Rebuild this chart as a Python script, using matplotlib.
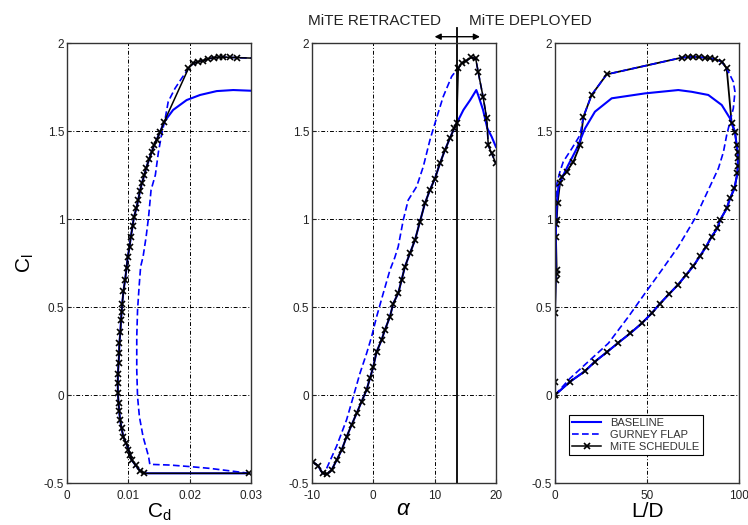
import matplotlib.pyplot as plt

plt.rcParams['font.family'] = ['Liberation Sans', 'DejaVu Sans']
plt.rcParams['mathtext.fontset'] = 'custom'
plt.rcParams['mathtext.rm'] = 'Liberation Sans'
plt.rcParams['mathtext.it'] = 'Liberation Sans:italic'

# ---- drag polar (Cd, Cl) ----
# part shared by the baseline and the MiTE schedule (tab retracted)
polar_low_cd = [0.0297, 0.0126, 0.0119, 0.0112, 0.01055, 0.0103, 0.0100, 0.0096, 0.0092,
                0.0089, 0.00865, 0.0085, 0.0084, 0.0083, 0.00826, 0.0083, 0.0084, 0.0085,
                0.00853, 0.0087, 0.0088, 0.0089, 0.0090, 0.0092, 0.00946, 0.0097, 0.0099,
                0.0102, 0.0104, 0.0107, 0.0109, 0.0113, 0.0116, 0.0119, 0.0122, 0.0126,
                0.0129, 0.0134, 0.0138, 0.0142, 0.0146, 0.0152, 0.0158]
polar_low_cl = [-0.445, -0.445, -0.43, -0.40, -0.37, -0.34, -0.31, -0.27, -0.24,
                -0.19, -0.14, -0.09, -0.047, 0.01, 0.066, 0.12, 0.18, 0.24,
                0.294, 0.36, 0.426, 0.47, 0.52, 0.59, 0.653, 0.72, 0.786,
                0.84, 0.90, 0.96, 1.01, 1.06, 1.108, 1.16, 1.203, 1.25,
                1.29, 1.34, 1.38, 1.42, 1.45, 1.496, 1.55]
base_high_cd = [0.0173, 0.0195, 0.0217, 0.0244, 0.0271, 0.0315]
base_high_cl = [1.62, 1.676, 1.705, 1.727, 1.733, 1.727]
mite_high_cd = [0.0198, 0.0206, 0.0214, 0.0222, 0.0230, 0.0239, 0.0247, 0.0255, 0.0266, 0.0277, 0.0315]
mite_high_cl = [1.856, 1.885, 1.895, 1.90, 1.91, 1.917, 1.919, 1.92, 1.919, 1.917, 1.913]
gurney_cd = [0.0297, 0.0277, 0.0233, 0.0201, 0.0168, 0.0135, 0.0133, 0.0124, 0.0118, 0.0115,
             0.01137, 0.01137, 0.0115, 0.01175, 0.0120, 0.0124, 0.0129, 0.0133, 0.0137,
             0.0144, 0.0149, 0.0154, 0.0160, 0.0165, 0.0176, 0.0187, 0.0198, 0.0206,
             0.0222, 0.0239, 0.0255, 0.0277, 0.0315]
gurney_cl = [-0.445, -0.436, -0.417, -0.407, -0.398, -0.394, -0.35, -0.237, -0.123, -0.01,
             0.142, 0.331, 0.483, 0.615, 0.729, 0.786, 0.90, 1.013, 1.165,
             1.25, 1.38, 1.477, 1.57, 1.667, 1.742, 1.80, 1.856, 1.885,
             1.90, 1.917, 1.92, 1.917, 1.913]

# ---- lift curve (alpha, Cl) ----
lift_low_alpha = [-9.9, -8.97, -8.26, -7.5, -6.79, -5.97, -5.16, -4.34, -3.53, -2.71, -1.9,
                  -1.08, -0.54, 0.0, 0.55, 1.36, 1.9, 2.72, 3.26, 4.07, 4.62, 5.16, 5.98,
                  6.8, 7.61, 8.43, 9.24, 10.06, 10.87, 11.69, 12.5, 13.2, 13.6]
lift_low_cl = [-0.379, -0.403, -0.445, -0.449, -0.426, -0.37, -0.313, -0.237, -0.17, -0.104, -0.037,
               0.03, 0.095, 0.16, 0.246, 0.313, 0.37, 0.445, 0.52, 0.578, 0.653, 0.729, 0.805,
               0.88, 0.985, 1.09, 1.165, 1.23, 1.316, 1.392, 1.46, 1.515, 1.544]
base_high_alpha = [14.7, 15.8, 16.8, 17.1, 17.9, 18.6, 19.3, 20.0]
base_high_lift = [1.62, 1.676, 1.733, 1.705, 1.62, 1.515, 1.468, 1.41]
gurney_alpha = [-7.6, -5.97, -4.34, -3.26, -2.17, -1.08, -0.27, 0.55, 1.63, 2.72, 3.5, 4.07,
                4.89, 5.7, 7.07, 8.15, 9.24, 10.06, 11.4, 12.78, 13.6, 13.86, 14.4, 15.2,
                16.0, 16.7, 17.1, 17.9, 18.5, 18.75, 19.3, 20.0]
gurney_lift = [-0.417, -0.29, -0.14, -0.01, 0.123, 0.237, 0.331, 0.445, 0.578, 0.71, 0.78, 0.843,
               0.994, 1.108, 1.184, 1.297, 1.449, 1.544, 1.695, 1.81, 1.847, 1.856, 1.885, 1.90,
               1.918, 1.913, 1.837, 1.695, 1.572, 1.42, 1.373, 1.316]
mite_high_alpha = [13.86, 14.4, 15.2, 16.0, 16.7, 17.1, 17.9, 18.5, 18.75, 19.3, 20.0]
mite_high_lift = [1.856, 1.885, 1.90, 1.918, 1.913, 1.837, 1.695, 1.572, 1.42, 1.373, 1.316]
alpha_switch = 13.7

# ---- lift-to-drag (L/D, Cl) ----
ld_low = [0, 8.2, 16.3, 21.7, 28.1, 34.4, 40.8, 47.1, 52.5, 57.1, 62, 66.7, 71.2, 75.2,
          78.8, 81.9, 85.1, 88.2, 89.7, 93.3, 95.1, 97.5, 99.1, 99.3, 99.4, 99.3, 98.7,
          97.8, 96]
ld_low_cl = [0, 0.076, 0.136, 0.19, 0.243, 0.297, 0.35, 0.407, 0.464, 0.52, 0.574, 0.625, 0.682, 0.733,
             0.79, 0.839, 0.90, 0.947, 0.994, 1.06, 1.117, 1.174, 1.26, 1.30, 1.345, 1.38, 1.42,
             1.496, 1.544]
ld_base_high = [95.1, 90.6, 83.3, 74.3, 67, 48.9, 30.8, 21.7, 16.3, 11.8, 7.2, 3.6, 1.8, 0.9,
                0.4, 0, 0, 0]
ld_base_high_cl = [1.572, 1.648, 1.705, 1.723, 1.733, 1.714, 1.686, 1.61, 1.515, 1.40, 1.307, 1.23, 1.18, 1.09,
                   0.9, 0.52, 0, -0.5]
ld_mite_high = [93.3, 90.6, 87, 84, 81.5, 78, 75.2, 72, 68.8, 28.1, 19.9, 15.4, 13.6, 10, 6.3,
                3.6, 2.7, 1.4, 0.9, 0.6, 0.5, 0.9, 0.9, 0.5, 0, 0, 0]
ld_mite_high_cl = [1.856, 1.894, 1.909, 1.913, 1.917, 1.92, 1.922, 1.92, 1.917, 1.822, 1.705, 1.58, 1.42, 1.326, 1.27,
                   1.24, 1.203, 1.09, 0.994, 0.97, 0.90, 0.71, 0.69, 0.653, 0.464, 0.076, 0]
ld_gurney = [0, 8.2, 18.1, 29, 39.9, 48.9, 58, 67, 76.1, 83.3, 88.8, 91.5, 93.3, 95.1, 96.9,
             97.8, 96.9, 95.1, 93.3, 90.6, 87, 81.5, 75.2, 68.8, 28.1, 19.9, 15.4, 13.6, 9.1,
             4.5, 2.7, 1.0, 0.5]
ld_gurney_cl = [0, 0.095, 0.19, 0.294, 0.445, 0.578, 0.71, 0.843, 1.004, 1.165, 1.288, 1.38, 1.477, 1.553, 1.629,
                1.723, 1.78, 1.818, 1.856, 1.894, 1.909, 1.917, 1.922, 1.917, 1.822, 1.705, 1.58, 1.477, 1.40,
                1.326, 1.27, 1.2, 1.1]

BLUE = '#0000ff'
base_kw = dict(color=BLUE, linewidth=1.5)
gurney_kw = dict(color=BLUE, linewidth=1.2, linestyle=(0, (4, 2)))
mite_kw = dict(color='black', linewidth=1.1, marker='x', markersize=5, markeredgewidth=1.2)


def style_axes(ax, xlim, xticks, xticklabels):
    ax.set_xlim(*xlim)
    ax.set_ylim(-0.5, 2)
    ax.set_xticks(xticks)
    ax.set_xticklabels(xticklabels)
    ax.set_yticks([-0.5, 0, 0.5, 1, 1.5, 2])
    ax.set_yticklabels(['-0.5', '0', '0.5', '1', '1.5', '2'])
    ax.grid(True, color='black', linewidth=0.7, linestyle=(0, (4, 2, 1, 2)))
    ax.tick_params(direction='in', length=3, labelsize=8.5, colors='#222222')
    ax.tick_params(axis='x', pad=5)
    ax.tick_params(axis='y', pad=2)
    for s in ax.spines.values():
        s.set_color('#333333')
        s.set_linewidth(1.0)


fig = plt.figure(figsize=(7.48, 5.25), dpi=100)
ax1 = fig.add_axes([0.0896, 0.080, 0.246, 0.838])
ax2 = fig.add_axes([0.417, 0.080, 0.246, 0.838])
ax3 = fig.add_axes([0.742, 0.080, 0.246, 0.838])

# drag polar
ax1.plot(polar_low_cd + base_high_cd, polar_low_cl + base_high_cl, **base_kw)
ax1.plot(gurney_cd, gurney_cl, **gurney_kw)
ax1.plot(polar_low_cd + mite_high_cd, polar_low_cl + mite_high_cl, **mite_kw)
style_axes(ax1, (0, 0.03), [0, 0.01, 0.02, 0.03], ['0', '0.01', '0.02', '0.03'])
ax1.set_xlabel(r'$\mathregular{C_d}$', fontsize=15, labelpad=0)
ax1.set_ylabel(r'$\mathregular{C_l}$', fontsize=15, labelpad=6)

# lift curve
ax2.plot(lift_low_alpha + base_high_alpha, lift_low_cl + base_high_lift, **base_kw)
ax2.plot(gurney_alpha, gurney_lift, **gurney_kw)
ax2.plot(lift_low_alpha + mite_high_alpha, lift_low_cl + mite_high_lift, **mite_kw)
ax2.plot([alpha_switch, alpha_switch], [-0.5, 2.085], color='black', linewidth=1.3, clip_on=False)
for x_end in (10.0, 17.4):
    ax2.annotate('', xy=(x_end, 2.036), xytext=(alpha_switch, 2.036), annotation_clip=False,
                 arrowprops=dict(arrowstyle='-|>', color='black', lw=1.0,
                                 shrinkA=0, shrinkB=0, mutation_scale=9))
style_axes(ax2, (-10, 20), [-10, 0, 10, 20], ['-10', '0', '10', '20'])
ax2.set_xlabel(r'$\alpha$', fontsize=16, labelpad=-2)

# lift-to-drag
ax3.plot(ld_low + ld_mite_high, ld_low_cl + ld_mite_high_cl, color='black', linewidth=1.3)
ax3.plot(ld_low + ld_base_high, ld_low_cl + ld_base_high_cl, **base_kw)
ax3.plot(ld_gurney, ld_gurney_cl, **gurney_kw)
ax3.plot(ld_low + ld_mite_high, ld_low_cl + ld_mite_high_cl, linestyle='none',
         color='black', marker='x', markersize=5, markeredgewidth=1.2)
style_axes(ax3, (0, 100), [0, 50, 100], ['0', '50', '100'])
ax3.set_xlabel('L/D', fontsize=15, labelpad=0)

# legend entries
h_base, = ax3.plot([], [], **base_kw)
h_gurney, = ax3.plot([], [], **gurney_kw)
h_mite, = ax3.plot([], [], **mite_kw)
leg = ax3.legend([h_base, h_gurney, h_mite], ['BASELINE', 'GURNEY FLAP', 'MiTE SCHEDULE'],
                 loc='lower left', bbox_to_anchor=(0.076, 0.064), fontsize=8,
                 fancybox=False, framealpha=1, edgecolor='black', borderpad=0.3,
                 handlelength=2.6, labelspacing=0.15, borderaxespad=0)
leg.get_frame().set_linewidth(0.8)
for t in leg.get_texts():
    t.set_color('#333333')

fig.text(375 / 748, 1 - 21 / 525, 'MiTE RETRACTED', ha='center', va='center', fontsize=11, color='#222222')
fig.text(530 / 748, 1 - 21 / 525, 'MiTE DEPLOYED', ha='center', va='center', fontsize=11, color='#222222')

fig.savefig('out.png', dpi=100, facecolor='white')
